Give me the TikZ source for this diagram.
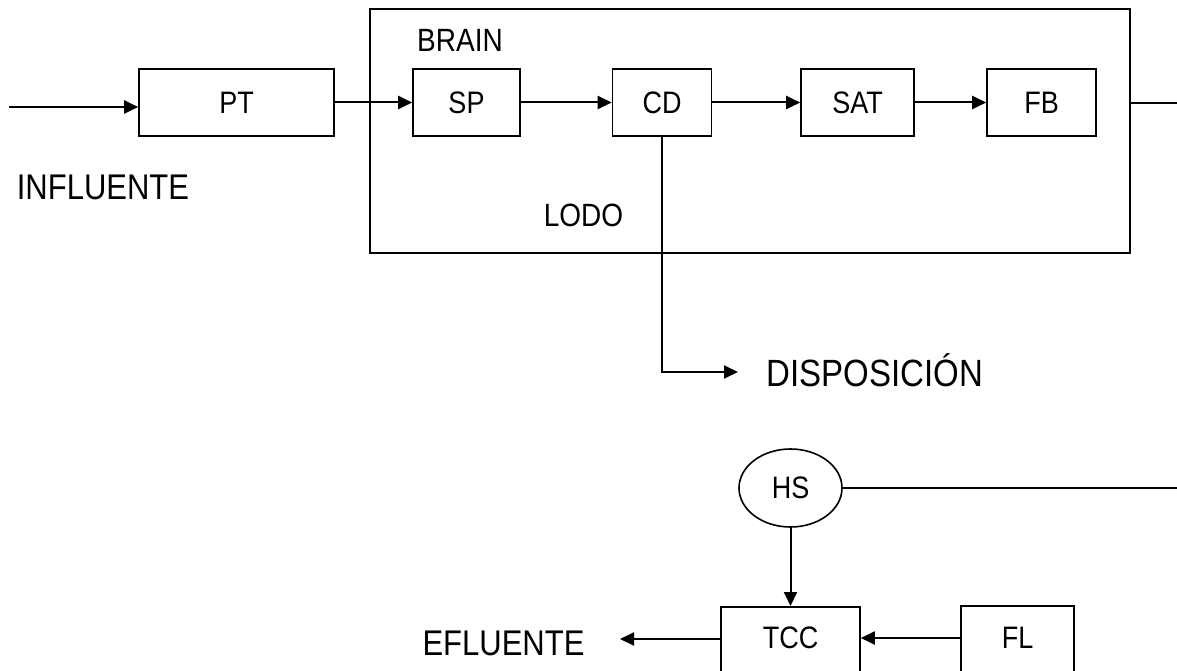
\documentclass[tikz,border=0pt]{standalone}
\usepackage{fontspec}
\usepackage{graphicx}
\setmainfont{Liberation Sans}
\usetikzlibrary{arrows.meta,shapes.geometric}
\newcommand{\tallt}[1]{\scalebox{1}[1.15]{#1}}
\tikzset{
 blk/.style={draw, line width=1.6pt, minimum height=67pt, inner sep=0pt,
   font=\fontsize{27pt}{30pt}\selectfont},
 lbl/.style={inner sep=0pt},
 smalllbl/.style={lbl, font=\fontsize{28pt}{30pt}\selectfont},
 biglbl/.style={lbl, font=\fontsize{31pt}{34pt}\selectfont},
 conn/.style={line width=2pt, -{Triangle[length=14pt,width=13pt]}},
 plainline/.style={line width=2pt},
}
\begin{document}
\begin{tikzpicture}[x=1pt,y=-1pt]
\clip (0,0) rectangle (1177,671);
% big enclosure
\node[draw, line width=1.6pt, minimum width=760pt, minimum height=244pt, inner sep=0pt] (big) at (750,131) {};
% blocks
\node[blk, minimum width=195pt] (PT) at (236.5,102.5) {\tallt{PT}};
\node[blk, minimum width=107pt] (SP) at (466.5,102.5) {\tallt{SP}};
\node[blk, minimum width=99pt] (CD) at (662,102.5) {\tallt{CD}};
\node[blk, minimum width=113pt] (SAT) at (857.5,102.5) {\tallt{SAT}};
\node[blk, minimum width=109pt] (FB) at (1041.5,102.5) {\tallt{FB}};
% labels
\node[smalllbl] (brain) at (460,40) {\tallt{BRAIN}};
\node[smalllbl] (lodo) at (583.5,215) {\tallt{LODO}};
\node[biglbl] (infl) at (103,187) {\tallt{INFLUENTE}};
\node[lbl, font=\fontsize{33pt}{36pt}\selectfont, text height=27pt, text depth=0pt] (disp) at (875,373) {\tallt{DISPOSICIÓN}};
\node[biglbl] (efl) at (503.5,643) {\tallt{EFLUENTE}};
% top connectors
\coordinate (in) at (9,107);
\draw[conn] (in) -- (in -| PT.west);
\draw[conn] (PT.east) -- (SP.west);
\draw[conn] (SP.east) -- (CD.west);
\draw[conn] (CD.east) -- (SAT.west);
\draw[conn] (SAT.east) -- (FB.west);
\coordinate (outR) at (1177,103);
\draw[plainline] (big.east |- outR) -- (outR);
% sludge line
\coordinate (corner) at (CD.south |- 0,372);
\coordinate (disptip) at (738,372);
\draw[conn] (CD.south) -- (corner) -- (disptip);
% lower part
\node[draw, ellipse, line width=1.6pt, minimum width=103pt, minimum height=78pt, inner sep=0pt,
   font=\fontsize{27pt}{30pt}\selectfont] (HS) at (790.5,488) {\tallt{HS}};
\coordinate (hsR) at (1177,488);
\draw[plainline] (HS.east) -- (hsR);
\node[draw, line width=1.6pt, minimum width=139pt, minimum height=100pt, inner sep=0pt, anchor=north] (TCCbox) at (790.5,606) {};
\node[lbl, font=\fontsize{27pt}{30pt}\selectfont] (TCC) at (790.5,638) {\tallt{TCC}};
\node[draw, line width=1.6pt, minimum width=113pt, minimum height=100pt, inner sep=0pt, anchor=north] (FLbox) at (1017.5,605) {};
\node[lbl, font=\fontsize{27pt}{30pt}\selectfont] (FL) at (1017.5,638) {\tallt{FL}};
\draw[conn] (HS.south) -- (TCCbox.north);
\draw[conn] (FLbox.west |- FL) -- (TCCbox.east |- FL);
\coordinate (efltip) at (620,639);
\draw[conn] (TCCbox.west |- efltip) -- (efltip);
\end{tikzpicture}
\end{document}
